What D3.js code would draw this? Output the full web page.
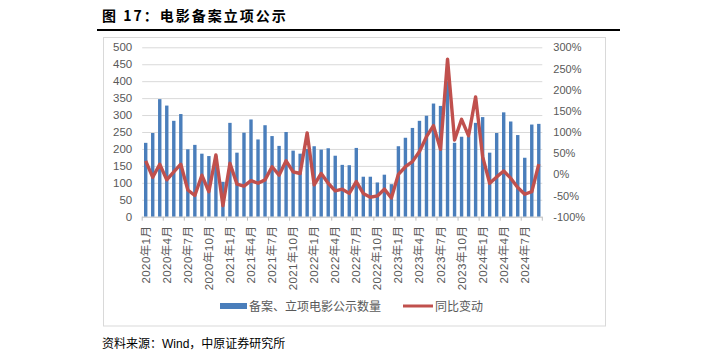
<!DOCTYPE html>
<html><head><meta charset="utf-8">
<script src="https://cdn.jsdelivr.net/npm/d3@7"></script>
<style>
body{margin:0;background:#fff;}
svg text{font-family:"Liberation Sans","Noto Sans CJK SC",sans-serif;}
</style></head>
<body><svg id="c" width="719" height="355"></svg>
<script>
const years = [2020, 2021, 2022, 2023, 2024];
const categories = [];
years.forEach(y => { for (let m = 1; m <= 12; m++) { if (y === 2024 && m > 9) break; categories.push(y + "年" + m + "月"); } });
const counts = [218,247,347,328,283,303,199,212,186,179,180,103,277,189,248,287,228,270,238,209,250,195,186,200,208,198,202,180,153,152,203,118,118,101,124,96,208,233,262,283,298,334,327,400,218,236,237,277,294,189,247,308,281,241,174,272,274];
const yoy = [32,-7,24,-13,6,24,-37,-50,-2,-41,46,-74,26,-23,-28,-15,-21,-13,18,-2,32,6,2,98,-25,2,-21,-39,-35,-45,-17,-45,-54,-51,-35,-56,0,18,30,54,89,115,59,272,81,130,91,183,42,-21,-6,8,-9,-31,-47,-41,24];
const leftTicks = [0,50,100,150,200,250,300,350,400,450,500];
const rightTicks = [-100,-50,0,50,100,150,200,250,300];
const seriesNames = ["备案、立项电影公示数量", "同比变动"];
const title = "图 17：电影备案立项公示";
const source = "资料来源：Wind，中原证券研究所";

const svg = d3.select("#c");
const L = 142.2, R = 542.3, T = 47.3, B = 216.7;
const x = d3.scaleBand().domain(categories).range([L, R]).padding(0);
const yL = d3.scaleLinear().domain([0, 500]).range([B, T]);
const yR = d3.scaleLinear().domain([-100, 300]).range([B, T]);

// title
svg.append("text").attr("x", 102).attr("y", 21).attr("font-size", 14).attr("font-weight", "bold")
  .attr("letter-spacing", 2).attr("fill", "#000").style("font-family", "'Noto Sans CJK SC',sans-serif").text(title);
svg.append("line").attr("x1", 97).attr("x2", 620).attr("y1", 30).attr("y2", 30).attr("stroke", "#000").attr("stroke-width", 2);
// frame
svg.append("rect").attr("x", 103.5).attr("y", 37.5).attr("width", 502).attr("height", 288.5)
  .attr("fill", "none").attr("stroke", "#d9d9d9");

// gridlines
svg.append("g").selectAll("line").data(leftTicks.slice(1)).join("line")
  .attr("x1", L).attr("x2", R).attr("y1", d => yL(d) + 0.5).attr("y2", d => yL(d) + 0.5)
  .attr("stroke", "#d9d9d9").attr("stroke-width", 1);

// left axis
const gl = svg.append("g").attr("transform", `translate(${L},0)`)
  .call(d3.axisLeft(yL).tickValues(leftTicks).tickSize(0).tickPadding(10));
gl.select(".domain").remove();
gl.selectAll("text").attr("font-size", 11.5).attr("fill", "#595959");
// right axis
const gr = svg.append("g").attr("transform", `translate(${R},0)`)
  .call(d3.axisRight(yR).tickValues(rightTicks).tickSize(0).tickPadding(11).tickFormat(d => d + "%"));
gr.select(".domain").remove();
gr.selectAll("text").attr("font-size", 11).attr("fill", "#595959");

// bars
svg.append("g").selectAll("rect").data(counts).join("rect")
  .attr("x", (d, i) => x(categories[i]) + x.bandwidth() / 2 - 1.7)
  .attr("width", 3.4)
  .attr("y", d => yL(d)).attr("height", d => yL(0) - yL(d))
  .attr("fill", "#4a7ebb");

// x axis
svg.append("line").attr("x1", L).attr("x2", R).attr("y1", B + 0.5).attr("y2", B + 0.5).attr("stroke", "#bfbfbf");
const tickCats = categories.filter((c, i) => i % 3 === 0);
svg.append("g").selectAll("line").data(tickCats.concat([null])).join("line")
  .attr("x1", d => d ? x(d) : R).attr("x2", d => d ? x(d) : R)
  .attr("y1", B).attr("y2", B + 4).attr("stroke", "#bfbfbf");
svg.append("g").selectAll("text").data(tickCats).join("text")
  .attr("transform", d => `translate(${x(d) + x.bandwidth() / 2 + 4},${B + 9}) rotate(-90)`)
  .attr("text-anchor", "end").attr("font-size", 11.5).attr("letter-spacing", 0.4).attr("fill", "#595959").text(d => d);

// line
const line = d3.line().x((d, i) => x(categories[i]) + x.bandwidth() / 2).y(d => yR(d));
svg.append("path").datum(yoy).attr("d", line).attr("fill", "none")
  .attr("stroke", "#c0504d").attr("stroke-width", 3.4).attr("stroke-linejoin", "round");

// legend
svg.append("rect").attr("x", 220).attr("y", 303).attr("width", 27).attr("height", 6).attr("fill", "#4a7ebb");
svg.append("text").attr("x", 249).attr("y", 311).attr("font-size", 12).attr("fill", "#595959").text(seriesNames[0]);
svg.append("line").attr("x1", 403).attr("x2", 433).attr("y1", 306).attr("y2", 306).attr("stroke", "#c0504d").attr("stroke-width", 3);
svg.append("text").attr("x", 435).attr("y", 311).attr("font-size", 12).attr("fill", "#595959").text(seriesNames[1]);

// source
svg.append("text").attr("x", 102).attr("y", 348).attr("font-size", 12).attr("fill", "#000").text(source);
</script></body></html>
